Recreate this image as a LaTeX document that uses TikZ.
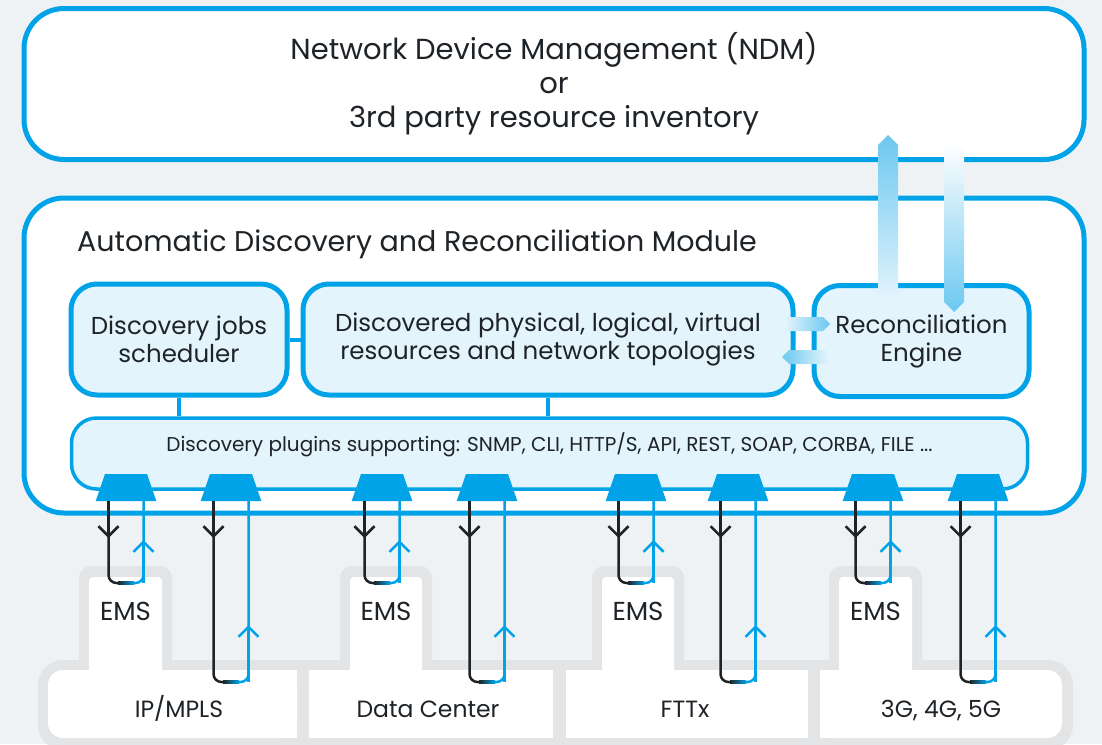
\documentclass[tikz,border=0pt]{standalone}
\usepackage{fontspec}
\setmainfont{Poppins}
\usetikzlibrary{arrows.meta,shapes.geometric}

\definecolor{edgeblue}{HTML}{00A3E8}
\definecolor{paleblue}{HTML}{E3F4FC}
\definecolor{flowblue}{HTML}{6CC8F0}
\definecolor{canvas}{HTML}{EEF2F4}
\definecolor{platform}{HTML}{E3E4E5}
\definecolor{ink}{HTML}{1E2328}

\begin{document}
\begin{tikzpicture}[x=1pt, y=-1pt, >={Straight Barb[length=10pt,width=20pt]},
    outerbox/.style={draw=edgeblue, line width=5pt, fill=white, rounded corners=40pt},
    innerbox/.style={draw=edgeblue, line width=5pt, fill=paleblue, rounded corners=26pt,
      align=center, text=ink, inner sep=0pt, font=\fontsize{24.5}{28}\selectfont},
    port/.style={trapezium, trapezium left angle=71, trapezium right angle=71,
      inner xsep=21pt, inner ysep=13.5pt, fill=edgeblue, outer sep=0pt},
    inkline/.style={draw=ink, line width=2.5pt},
    cyanline/.style={draw=edgeblue, line width=2.5pt},
    link/.style={draw=edgeblue, line width=4pt},
    emslabel/.style={anchor=base, inner sep=0pt, text=ink, font=\fontsize{26}{30}\selectfont},
    netlabel/.style={anchor=base, inner sep=0pt, text=ink, font=\fontsize{23.5}{28}\selectfont}]

    \useasboundingbox (0,0) rectangle (1102,744);
    \fill[canvas] (0,0) rectangle (1102,744);

    % The network platforms
    \fill[platform, rounded corners=25pt] (38,660) rectangle (1073,750);
    \fill[platform, rounded corners=12pt] (79,566) rectangle (172,670);
    \fill[platform, rounded corners=12pt] (340,566) rectangle (432,670);
    \fill[platform, rounded corners=12pt] (592,566) rectangle (684,670);
    \fill[platform, rounded corners=12pt] (829,566) rectangle (922,670);
    \fill[white, rounded corners=15pt] (48,670) rectangle (297,738);
    \fill[white] (150,670) rectangle (297,738);
    \fill[white] (309,670) rectangle (553,738);
    \fill[white] (566,670) rectangle (808,738);
    \fill[white, rounded corners=15pt] (820,670) rectangle (1062,738);
    \fill[white] (820,670) rectangle (950,738);
    \fill[white, rounded corners=4pt] (89,577) rectangle (162,675);
    \fill[white, rounded corners=4pt] (350,577) rectangle (422,675);
    \fill[white, rounded corners=4pt] (602,577) rectangle (674,675);
    \fill[white, rounded corners=4pt] (839,577) rectangle (912,675);

    \node[emslabel] (ems1) at (125.5,620) {EMS};
    \node[emslabel] (ems2) at (386,620) {EMS};
    \node[emslabel] (ems3) at (638,620) {EMS};
    \node[emslabel] (ems4) at (875.5,620) {EMS};
    \node[netlabel] (ipmpls) at (179,717) {IP/MPLS};
    \node[netlabel] (datacenter) at (428,717) {Data Center};
    \node[netlabel] (fttx) at (685,717) {FTTx};
    \node[netlabel] (mobile) at (941,717) {3G, 4G, 5G};

    % The inventory and the module
    \node[outerbox, minimum width=1060pt, minimum height=151pt, align=center, text=ink,
      font=\fontsize{29}{34}\selectfont] (ndm) at (554,84)
      {Network Device Management (NDM)\\or\\3rd party resource inventory};
    \node[outerbox, minimum width=1060pt, minimum height=315pt] (adrm) at (554,355.5) {};
    \node[anchor=base west, inner sep=0pt, text=ink, font=\fontsize{28.5}{34}\selectfont]
      (adrmtitle) at (77,251) {Automatic Discovery and Reconciliation Module};

    % Inner blocks
    \node[innerbox, minimum width=216pt, minimum height=111pt] (sched) at (179,339.5)
      {Discovery jobs\\scheduler};
    \node[innerbox, minimum width=490pt, minimum height=111pt] (found) at (548,339.5)
      {Discovered physical, logical, virtual\\resources and network topologies};
    \node[innerbox, minimum width=215pt, minimum height=111pt] (recon) at (921.5,341)
      {Reconciliation\\Engine};
    \node[draw=edgeblue, line width=3.5pt, fill=paleblue, rounded corners=25pt,
      minimum width=956pt, minimum height=71pt] (plugins) at (549.5,453.5) {};
    \node[text=ink, font=\fontsize{20}{24}\selectfont] (plugtext) at (549.5,445)
      {Discovery plugins supporting: SNMP, CLI, HTTP/S, API, REST, SOAP, CORBA, FILE ...};

    \draw[link] (sched) -- (found);
    \draw[link] (sched.south) -- (sched.south |- plugins.north);
    \draw[link] (found.south) -- (found.south |- plugins.north);

    % Sync arrows
    \shade[left color=paleblue, right color=flowblue] (785,317) -- (823,317) -- (830,324) -- (823,331) -- (785,331) -- cycle;
    \shade[left color=flowblue, right color=paleblue] (828,350) -- (789,350) -- (782,357) -- (789,364) -- (828,364) -- cycle;
    \shade[top color=flowblue, bottom color=paleblue] (878,300) -- (878,145) -- (888,135) -- (898,145) -- (898,300) -- cycle;
    \shade[top color=white, bottom color=flowblue] (944,143) -- (944,302) -- (954,312) -- (964,302) -- (964,143) -- cycle;

    % Plugin ports
    \node[port, anchor=south] (p1) at (126,501) {};
    \node[port, anchor=south] (p2) at (231,501) {};
    \node[port, anchor=south] (p3) at (382,501) {};
    \node[port, anchor=south] (p4) at (487,501) {};
    \node[port, anchor=south] (p5) at (636,501) {};
    \node[port, anchor=south] (p6) at (738,501) {};
    \node[port, anchor=south] (p7) at (873,501) {};
    \node[port, anchor=south] (p8) at (978,501) {};

    % Requests down, answers up
    \foreach \i/\d/\t in {1/82/39, 2/181/124, 3/82/39, 4/181/124, 5/82/39, 6/181/124, 7/82/39, 8/181/124}{
      \draw[inkline, rounded corners=8pt] ([xshift=-17.5pt]p\i.south) -- ++(0,\d) -- ++(9.5,0);
      \shade[left color=ink, right color=edgeblue] ([shift={(-8,\d-1.25)}]p\i.south) rectangle ([shift={(8,\d+1.25)}]p\i.south);
      \draw[cyanline, rounded corners=8pt] ([xshift=17.5pt]p\i.south) -- ++(0,\d) -- ++(-9.5,0);
      \draw[inkline, ->] ([xshift=-17.5pt]p\i.south) -- ++(0,37);
      \draw[cyanline, ->] ([shift={(17.5,\d)}]p\i.south) -- ([shift={(17.5,\t)}]p\i.south);
    }

\end{tikzpicture}
\end{document}
